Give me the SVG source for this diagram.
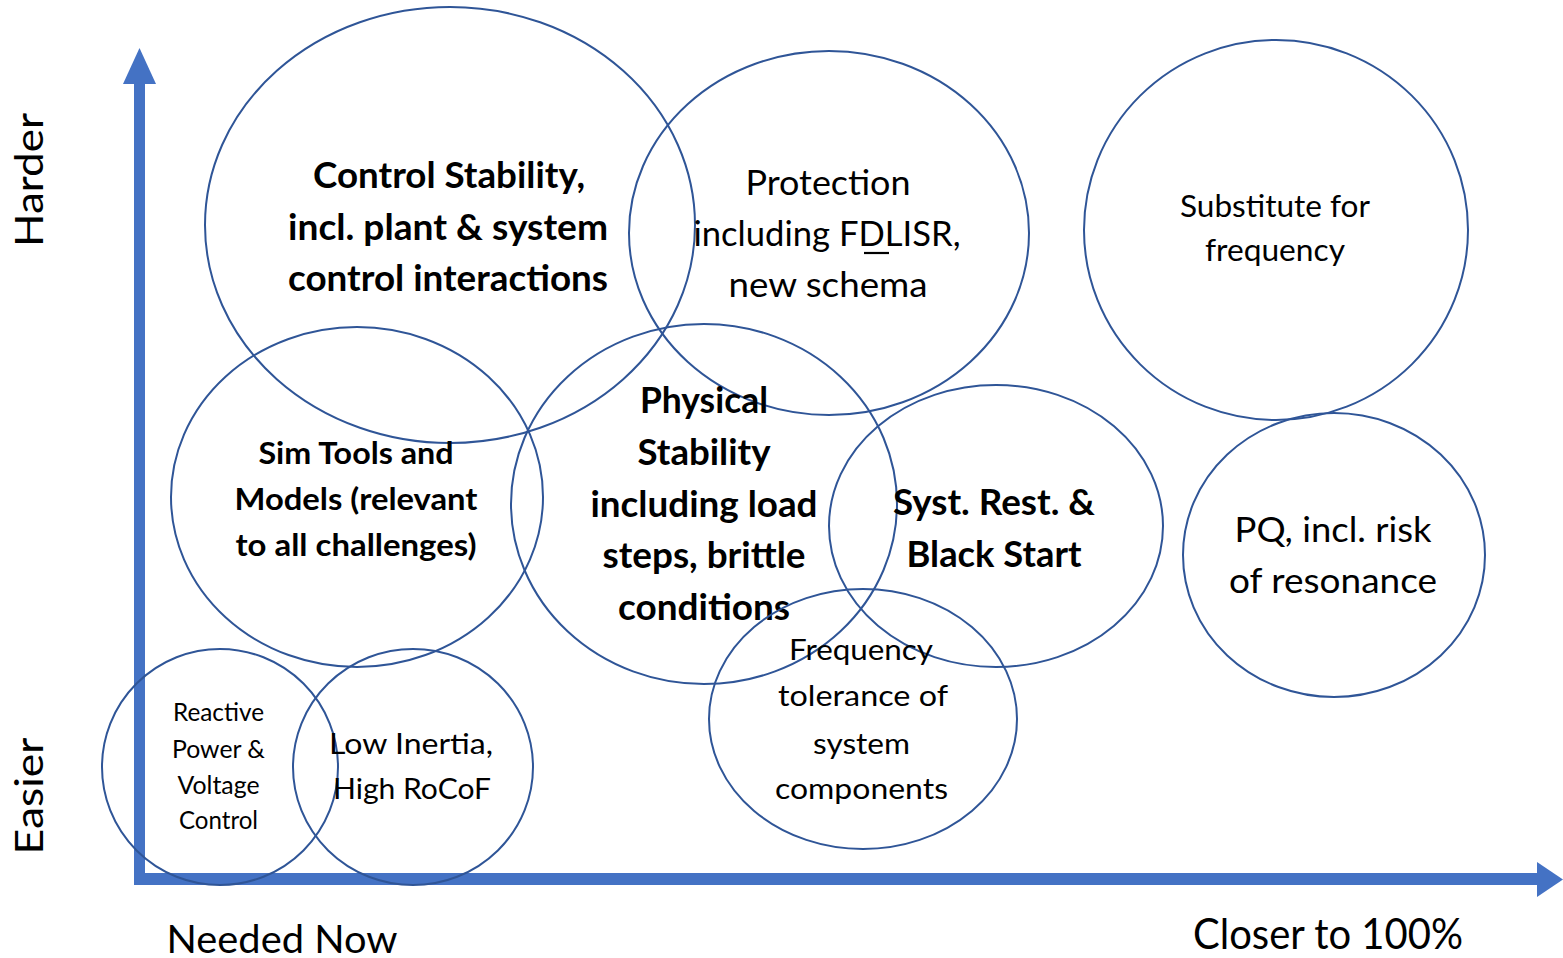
<svg xmlns="http://www.w3.org/2000/svg" width="1563" height="958" viewBox="0 0 1563 958">
<style>
.axis{stroke:#4472C4;fill:none}
.head{fill:#4472C4;stroke:none}
.bub{fill:none;stroke:#2F5597;stroke-width:2}
text{font-family:Lato,"Open Sans","Liberation Sans",sans-serif;fill:#000;text-anchor:middle}
.b{font-weight:bold}
</style>
<rect width="1563" height="958" fill="#fff"/>
<g id="axes">
<line class="axis" x1="139.5" y1="880" x2="139.5" y2="82" stroke-width="11"/>
<polygon class="head" points="123,84 156,84 139.5,48"/>
<line class="axis" x1="134" y1="879" x2="1539" y2="879" stroke-width="12"/>
<polygon class="head" points="1537,862 1537,897 1563,879.5"/>
</g>
<g id="axis-labels">
<text x="0" y="0" font-size="38" transform="translate(43,180) rotate(-90)" textLength="134" lengthAdjust="spacingAndGlyphs">Harder</text>
<text x="0" y="0" font-size="38" transform="translate(43,796) rotate(-90)" textLength="117" lengthAdjust="spacingAndGlyphs">Easier</text>
<text x="282" y="953" font-size="39" textLength="231" lengthAdjust="spacingAndGlyphs">Needed Now</text>
<text x="1328" y="949" font-size="42" textLength="270" lengthAdjust="spacingAndGlyphs">Closer to 100%</text>
</g>
<g id="control-stability">
<ellipse class="bub" cx="450" cy="225" rx="245" ry="218"/>
<text class="b" font-size="36"><tspan x="449" y="188" textLength="272" lengthAdjust="spacingAndGlyphs">Control Stability,</tspan><tspan x="448" y="240" textLength="320" lengthAdjust="spacingAndGlyphs">incl. plant &amp; system</tspan><tspan x="448" y="291" textLength="320" lengthAdjust="spacingAndGlyphs">control interactions</tspan></text>
</g>
<g id="protection">
<ellipse class="bub" cx="829" cy="233" rx="200" ry="182"/>
<text font-size="35"><tspan x="828" y="195" textLength="165" lengthAdjust="spacingAndGlyphs">Protection</tspan><tspan x="827" y="246" textLength="267" lengthAdjust="spacingAndGlyphs">including FDLISR,</tspan><tspan x="828" y="297" textLength="199" lengthAdjust="spacingAndGlyphs">new schema</tspan></text>
<line x1="864" y1="253" x2="889" y2="253" stroke="#000" stroke-width="2.2"/>
</g>
<g id="substitute-frequency">
<ellipse class="bub" cx="1276" cy="230" rx="192" ry="190"/>
<text font-size="31"><tspan x="1275" y="217" textLength="190" lengthAdjust="spacingAndGlyphs">Substitute for</tspan><tspan x="1275" y="261" textLength="140" lengthAdjust="spacingAndGlyphs">frequency</tspan></text>
</g>
<g id="sim-tools">
<ellipse class="bub" cx="357" cy="497" rx="186" ry="170"/>
<text class="b" font-size="31"><tspan x="356" y="464" textLength="195" lengthAdjust="spacingAndGlyphs">Sim Tools and</tspan><tspan x="356" y="510" textLength="243" lengthAdjust="spacingAndGlyphs">Models (relevant</tspan><tspan x="356" y="556" textLength="241" lengthAdjust="spacingAndGlyphs">to all challenges)</tspan></text>
</g>
<g id="physical-stability">
<ellipse class="bub" cx="704" cy="504" rx="193" ry="180"/>
<text class="b" font-size="36"><tspan x="704" y="413" textLength="128" lengthAdjust="spacingAndGlyphs">Physical</tspan><tspan x="704" y="465" textLength="133" lengthAdjust="spacingAndGlyphs">Stability</tspan><tspan x="704" y="517" textLength="227" lengthAdjust="spacingAndGlyphs">including load</tspan><tspan x="704" y="568" textLength="203" lengthAdjust="spacingAndGlyphs">steps, brittle</tspan><tspan x="704" y="620" textLength="172" lengthAdjust="spacingAndGlyphs">conditions</tspan></text>
</g>
<g id="system-restoration">
<ellipse class="bub" cx="996" cy="526" rx="167" ry="141"/>
<text class="b" font-size="36"><tspan x="994" y="515" textLength="202" lengthAdjust="spacingAndGlyphs">Syst. Rest. &amp;</tspan><tspan x="994" y="567" textLength="175" lengthAdjust="spacingAndGlyphs">Black Start</tspan></text>
</g>
<g id="power-quality">
<ellipse class="bub" cx="1334" cy="555" rx="151" ry="142"/>
<text font-size="35"><tspan x="1333" y="542" textLength="197" lengthAdjust="spacingAndGlyphs">PQ, incl. risk</tspan><tspan x="1333" y="593" textLength="208" lengthAdjust="spacingAndGlyphs">of resonance</tspan></text>
</g>
<g id="reactive-power">
<ellipse class="bub" cx="220" cy="767" rx="118" ry="118"/>
<text font-size="25"><tspan x="218.5" y="721" textLength="91" lengthAdjust="spacingAndGlyphs">Reactive</tspan><tspan x="218.5" y="758" textLength="93" lengthAdjust="spacingAndGlyphs">Power &amp;</tspan><tspan x="218.5" y="794" textLength="82" lengthAdjust="spacingAndGlyphs">Voltage</tspan><tspan x="218.5" y="829" textLength="79" lengthAdjust="spacingAndGlyphs">Control</tspan></text>
</g>
<g id="low-inertia">
<ellipse class="bub" cx="413" cy="767" rx="120" ry="118"/>
<text font-size="29"><tspan x="411" y="754" textLength="164" lengthAdjust="spacingAndGlyphs">Low Inertia,</tspan><tspan x="412" y="799" textLength="158" lengthAdjust="spacingAndGlyphs">High RoCoF</tspan></text>
</g>
<g id="frequency-tolerance">
<ellipse class="bub" cx="863" cy="719" rx="154" ry="130"/>
<text font-size="29"><tspan x="861" y="660" textLength="144" lengthAdjust="spacingAndGlyphs">Frequency</tspan><tspan x="863" y="706" textLength="170" lengthAdjust="spacingAndGlyphs">tolerance of</tspan><tspan x="861.5" y="754" textLength="97" lengthAdjust="spacingAndGlyphs">system</tspan><tspan x="861.5" y="799" textLength="173" lengthAdjust="spacingAndGlyphs">components</tspan></text>
</g>
</svg>
